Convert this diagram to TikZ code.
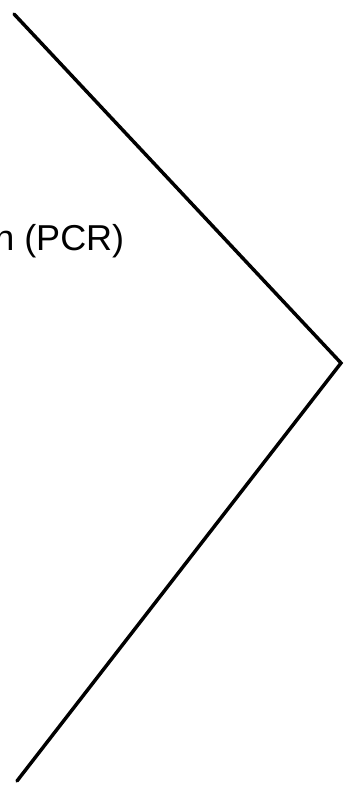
\documentclass[tikz,border=0pt]{standalone}
\usepackage{fontspec}
\setmainfont{Liberation Sans}
\usetikzlibrary{calc}
\tikzset{chevron/.style={line width=2.6pt, line cap=round, line join=miter, color=black}}

\begin{document}
\begin{tikzpicture}[x=0.75pt, y=-0.75pt]
		%%%%% START %%%%%
		
		\useasboundingbox (0, 0) rectangle (343, 788);
		\clip (0, 0) rectangle (343, 788);
		
		\coordinate (top) at (14, 14);
		\coordinate (tip) at (341, 363);
		\coordinate (bottom) at (17, 781);
		
		\draw[chevron] (top) -- (tip) -- (bottom);
		
		\node[anchor=base west, inner sep=0pt, font=\fontsize{27}{32}\selectfont] (pcr) at (-6, 250) {n (PCR)};
		
		%%%%% END %%%%%
	\end{tikzpicture}
\end{document}
